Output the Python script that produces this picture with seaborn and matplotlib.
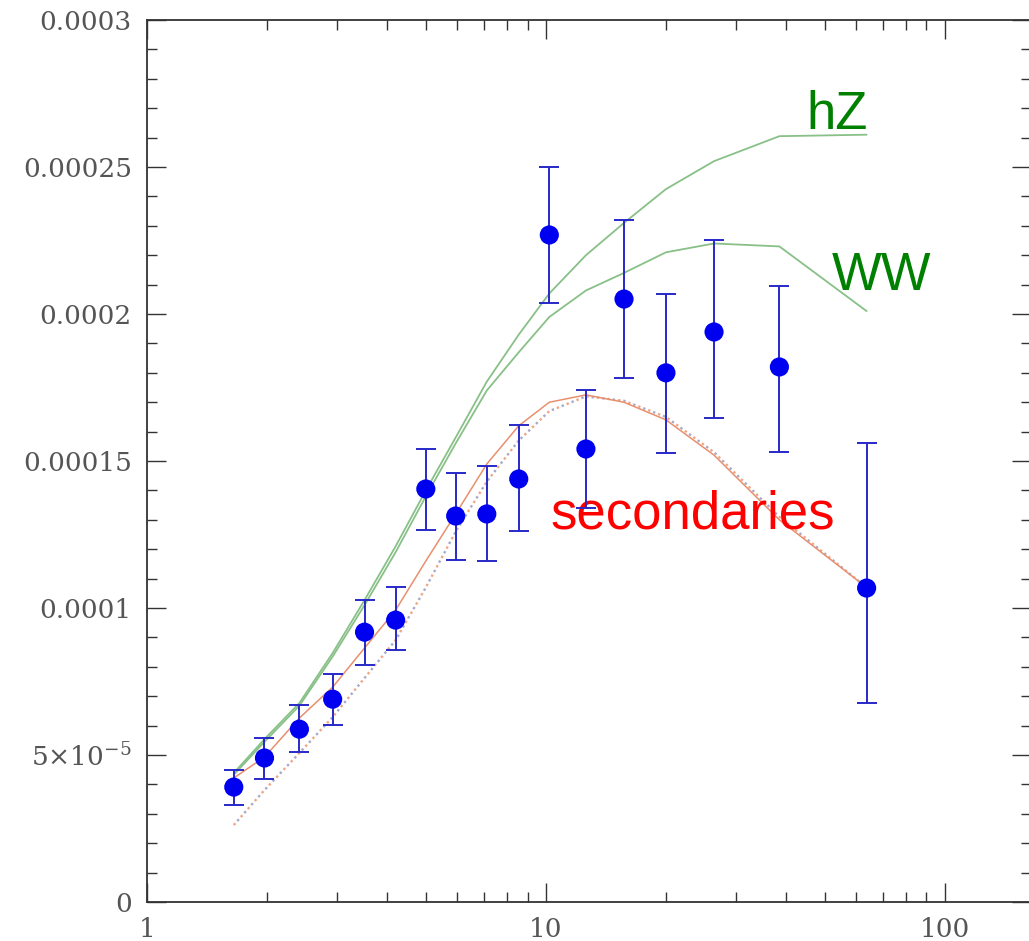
import seaborn as sns
import matplotlib.pyplot as plt
from matplotlib.ticker import FixedLocator, FixedFormatter, MultipleLocator, LogLocator, NullFormatter

# bin centres and measured values
energy = [1.65, 1.97, 2.41, 2.92, 3.51, 4.20, 5.00, 5.94, 7.11, 8.55,
          10.2, 12.6, 15.7, 20.0, 26.4, 38.5, 63.7]
flux = [3.91e-5, 4.90e-5, 5.88e-5, 6.90e-5, 9.18e-5, 9.59e-5, 1.405e-4, 1.313e-4, 1.32e-4,
        1.439e-4, 2.269e-4, 1.541e-4, 2.051e-4, 1.80e-4, 1.939e-4, 1.82e-4, 1.068e-4]
flux_lo = [3.30e-5, 4.18e-5, 5.10e-5, 6.02e-5, 8.06e-5, 8.57e-5, 1.265e-4, 1.163e-4, 1.16e-4,
           1.262e-4, 2.037e-4, 1.34e-4, 1.782e-4, 1.527e-4, 1.646e-4, 1.531e-4, 6.77e-5]
flux_hi = [4.49e-5, 5.58e-5, 6.70e-5, 7.76e-5, 1.027e-4, 1.071e-4, 1.541e-4, 1.459e-4, 1.483e-4,
           1.622e-4, 2.50e-4, 1.741e-4, 2.32e-4, 2.068e-4, 2.252e-4, 2.095e-4, 1.561e-4]

# model curves
hz = [4.39e-5, 5.54e-5, 6.77e-5, 8.47e-5, 1.027e-4, 1.21e-4, 1.40e-4, 1.58e-4, 1.77e-4,
      1.93e-4, 2.07e-4, 2.20e-4, 2.31e-4, 2.425e-4, 2.52e-4, 2.605e-4, 2.61e-4]
ww = [4.33e-5, 5.45e-5, 6.68e-5, 8.35e-5, 1.01e-4, 1.19e-4, 1.38e-4, 1.56e-4, 1.74e-4,
      1.87e-4, 1.99e-4, 2.08e-4, 2.14e-4, 2.21e-4, 2.24e-4, 2.23e-4, 2.01e-4]
secondaries = [4.22e-5, 4.93e-5, 6.26e-5, 7.31e-5, 8.64e-5, 9.93e-5, 1.16e-4, 1.32e-4, 1.49e-4,
               1.62e-4, 1.70e-4, 1.725e-4, 1.70e-4, 1.64e-4, 1.52e-4, 1.30e-4, 1.07e-4]
secondaries_alt = [2.62e-5, 3.81e-5, 5.07e-5, 6.29e-5, 7.62e-5, 8.91e-5, 1.07e-4, 1.26e-4, 1.43e-4,
                   1.57e-4, 1.67e-4, 1.72e-4, 1.705e-4, 1.65e-4, 1.53e-4, 1.31e-4, 1.07e-4]

ytick_vals = [0, 5e-5, 1e-4, 1.5e-4, 2e-4, 2.5e-4, 3e-4]
ytick_labels = ['0', r'$5{\times}10^{-5}$', '0.0001', '0.00015', '0.0002', '0.00025', '0.0003']
xtick_vals = [1, 10, 100]
xtick_labels = ['1', '10', '100']

sns.set_style('ticks')
plt.rcParams['mathtext.fontset'] = 'dejavuserif'

fig = plt.figure(figsize=(10.29, 9.41), dpi=100)
ax = fig.add_axes([0.1429, 0.0414, 0.8590, 0.9373])
ax.set_xscale('log')

# dotted variant (two interleaved dot colours)
sns.lineplot(x=energy, y=secondaries_alt, ax=ax, color='#f0a584', lw=1.7,
             linestyle=(0, (1, 3.5)), sort=False)
sns.lineplot(x=energy, y=secondaries_alt, ax=ax, color='#a8a8c8', lw=1.7,
             linestyle=(2.25, (1, 3.5)), sort=False)
sns.lineplot(x=energy, y=secondaries, ax=ax, color='#e8906e', lw=1.1, sort=False)
sns.lineplot(x=energy, y=ww, ax=ax, color='#88c088', lw=1.3, sort=False)
sns.lineplot(x=energy, y=hz, ax=ax, color='#88c088', lw=1.3, sort=False)

yerr = [[f - lo for f, lo in zip(flux, flux_lo)], [hi - f for f, hi in zip(flux, flux_hi)]]
ax.errorbar(energy, flux, yerr=yerr, fmt='none', ecolor='#2828c8', elinewidth=1.4,
            capsize=7, capthick=1.4, zorder=4)
sns.scatterplot(x=energy, y=flux, ax=ax, color='#0000f0', s=190, edgecolor='none',
                zorder=5)

ax.text(45.0, 2.629e-4, 'hZ', color='#008000', fontsize=38, family='Liberation Sans',
        va='baseline', ha='left')
ax.text(52.0, 2.082e-4, 'WW', color='#008000', fontsize=38, family='Liberation Sans',
        va='baseline', ha='left')
ax.text(10.29, 1.272e-4, 'secondaries', color='#ff0000', fontsize=38,
        family='Liberation Sans', va='baseline', ha='left')

ax.set_xlim(1, 164.5)
ax.set_ylim(0, 3e-4)
ax.yaxis.set_major_locator(FixedLocator(ytick_vals))
ax.yaxis.set_major_formatter(FixedFormatter(ytick_labels))
ax.yaxis.set_minor_locator(MultipleLocator(1e-5))
ax.xaxis.set_major_locator(FixedLocator(xtick_vals))
ax.xaxis.set_major_formatter(FixedFormatter(xtick_labels))
ax.xaxis.set_minor_locator(LogLocator(base=10, subs=range(2, 10)))
ax.xaxis.set_minor_formatter(NullFormatter())

ax.tick_params(which='both', direction='in', top=True, right=True, color='#333333')
ax.tick_params(which='major', length=14, width=1.0, pad=11, labelsize=19, labelcolor='#555555')
ax.tick_params(which='minor', length=7, width=1.0)
for lab in ax.get_xticklabels() + ax.get_yticklabels():
    lab.set_family('DejaVu Serif')
for sp in ax.spines.values():
    sp.set_color('#333333')
    sp.set_linewidth(1.3)
ax.set_xlabel('')
ax.set_ylabel('')

fig.savefig('out.png', dpi=100)
